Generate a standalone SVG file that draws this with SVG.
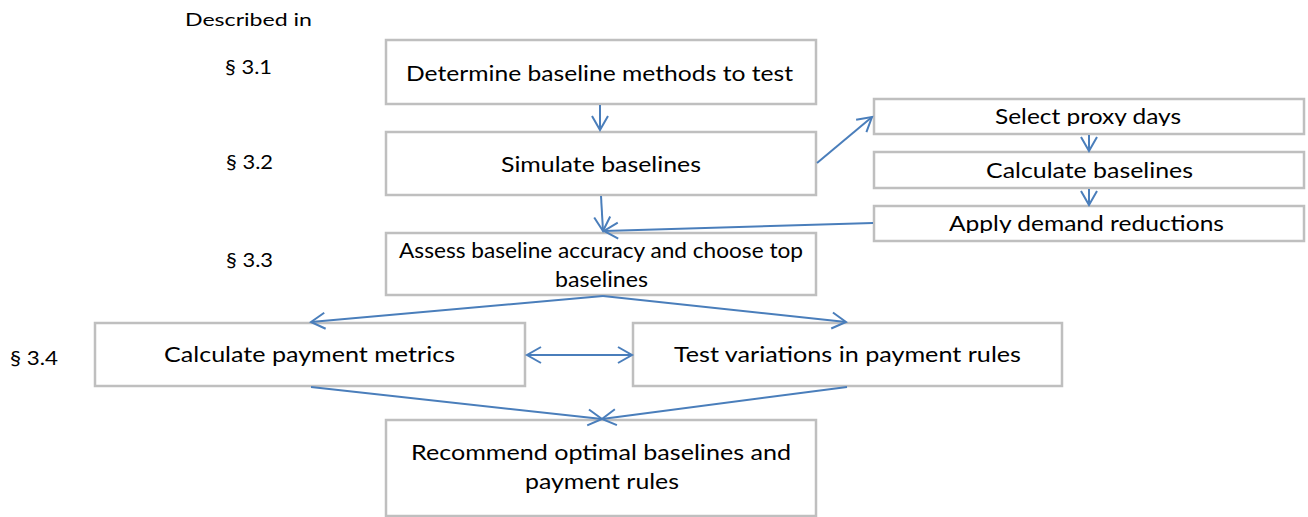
<svg xmlns="http://www.w3.org/2000/svg" width="1308" height="517" viewBox="0 0 1308 517">
<style>
.box{fill:#fff;stroke:#bfbfbf;stroke-width:2.5}
.t{font-family:Lato,"Liberation Sans",sans-serif;fill:#000;text-anchor:start}
.c{fill:none;stroke:#4a7ebb;stroke-width:2}
</style>
<defs>
<marker id="a" markerUnits="userSpaceOnUse" markerWidth="20" markerHeight="20" refX="0" refY="0" viewBox="-16 -10 20 20" orient="auto-start-reverse" overflow="visible">
<path d="M-14,-8 L0,0 L-14,8" fill="none" stroke="#4a7ebb" stroke-width="2"/>
</marker>
<clipPath id="cp1"><rect x="874" y="100" width="430" height="26"/></clipPath>
<clipPath id="cp3"><rect x="874" y="207" width="430" height="26"/></clipPath>
</defs>
<rect width="1308" height="517" fill="#fff"/>
<g id="labels">
<text class="t" x="185" y="26" font-size="18" textLength="127" lengthAdjust="spacingAndGlyphs">Described in</text>
<text class="t" x="225" y="74" font-size="19" textLength="47" lengthAdjust="spacingAndGlyphs">§ 3.1</text>
<text class="t" x="226" y="169" font-size="19" textLength="47" lengthAdjust="spacingAndGlyphs">§ 3.2</text>
<text class="t" x="226" y="267" font-size="19" textLength="47" lengthAdjust="spacingAndGlyphs">§ 3.3</text>
<text class="t" x="10" y="365" font-size="19" textLength="48" lengthAdjust="spacingAndGlyphs">§ 3.4</text>
</g>
<g id="n1"><rect class="box" x="386" y="40" width="430" height="64"/>
<text class="t" x="406" y="81" font-size="22" textLength="387" lengthAdjust="spacingAndGlyphs">Determine baseline methods to test</text></g>
<g id="n2"><rect class="box" x="386" y="132" width="430" height="63"/>
<text class="t" x="501" y="172" font-size="22" textLength="200" lengthAdjust="spacingAndGlyphs">Simulate baselines</text></g>
<g id="n3"><rect class="box" x="386" y="233" width="430" height="62"/>
<text class="t" x="399" y="258" font-size="22" textLength="404" lengthAdjust="spacingAndGlyphs">Assess baseline accuracy and choose top</text>
<text class="t" x="555" y="287" font-size="22" textLength="93" lengthAdjust="spacingAndGlyphs">baselines</text></g>
<g id="n4"><rect class="box" x="874" y="99" width="430" height="35"/>
<text class="t" x="995" y="124" font-size="21" textLength="186" lengthAdjust="spacingAndGlyphs" clip-path="url(#cp1)">Select proxy days</text></g>
<g id="n5"><rect class="box" x="874" y="152" width="430" height="36"/>
<text class="t" x="986" y="178" font-size="21" textLength="207" lengthAdjust="spacingAndGlyphs">Calculate baselines</text></g>
<g id="n6"><rect class="box" x="874" y="206" width="430" height="35"/>
<text class="t" x="949" y="231" font-size="21" textLength="275" lengthAdjust="spacingAndGlyphs" clip-path="url(#cp3)">Apply demand reductions</text></g>
<g id="n7"><rect class="box" x="95" y="323" width="430" height="63"/>
<text class="t" x="164" y="362" font-size="21" textLength="291" lengthAdjust="spacingAndGlyphs">Calculate payment metrics</text></g>
<g id="n8"><rect class="box" x="633" y="323" width="429" height="63"/>
<text class="t" x="674" y="362" font-size="21" textLength="347" lengthAdjust="spacingAndGlyphs">Test variations in payment rules</text></g>
<g id="n9"><rect class="box" x="386" y="420" width="430" height="96"/>
<text class="t" x="411" y="460" font-size="21" textLength="380" lengthAdjust="spacingAndGlyphs">Recommend optimal baselines and</text>
<text class="t" x="525" y="489" font-size="21" textLength="154" lengthAdjust="spacingAndGlyphs">payment rules</text></g>
<g id="connectors">
<line class="c" x1="600" y1="105" x2="600" y2="130" marker-end="url(#a)"/>
<line class="c" x1="601" y1="196" x2="603" y2="231" marker-end="url(#a)"/>
<line class="c" x1="873" y1="223" x2="604" y2="231" marker-end="url(#a)"/>
<line class="c" x1="817" y1="163" x2="872" y2="117" marker-end="url(#a)"/>
<line class="c" x1="1089" y1="135" x2="1089" y2="151" marker-end="url(#a)"/>
<line class="c" x1="1089" y1="189" x2="1089" y2="205" marker-end="url(#a)"/>
<line class="c" x1="603" y1="296" x2="311" y2="322" marker-end="url(#a)"/>
<line class="c" x1="603" y1="296" x2="846" y2="322" marker-end="url(#a)"/>
<line class="c" x1="527" y1="355" x2="632" y2="355" marker-start="url(#a)" marker-end="url(#a)"/>
<line class="c" x1="311" y1="387" x2="602" y2="419" marker-end="url(#a)"/>
<line class="c" x1="847" y1="387" x2="602" y2="419" marker-end="url(#a)"/>
</g>
</svg>
